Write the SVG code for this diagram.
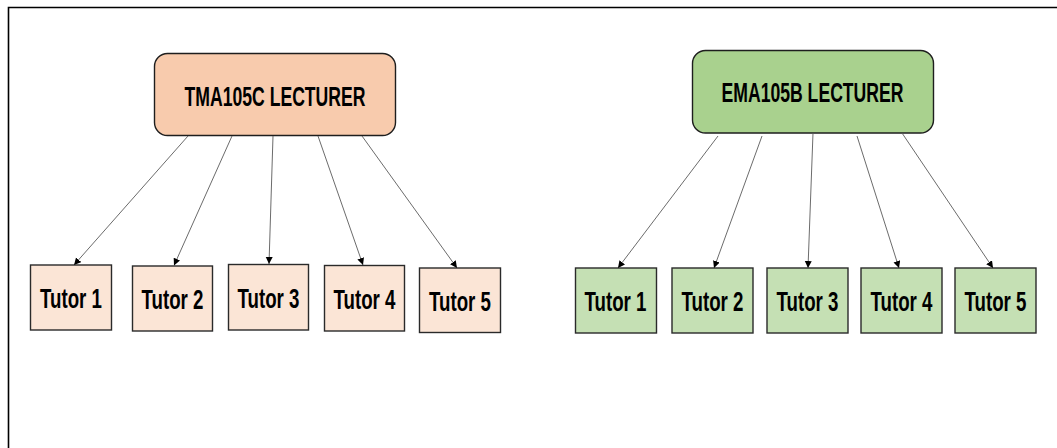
<svg xmlns="http://www.w3.org/2000/svg" width="1057" height="448" viewBox="0 0 1057 448">
  <style>
    .frame { fill: none; stroke: #000; stroke-width: 1.6; }
    .lect { stroke: #1e1e1e; stroke-width: 1.4; }
    .tutor { stroke: #2a2a2a; stroke-width: 1.4; }
    .tmaL { fill: #F8CBAD; }
    .tmaT { fill: #FBE5D6; }
    .emaL { fill: #A9D18E; }
    .emaT { fill: #C5E0B4; }
    .lbl { font-family: "Liberation Sans", Arial, sans-serif; font-weight: bold; font-size: 27px; fill: #000; text-anchor: middle; }
    .edge { stroke: #5a5a5a; stroke-width: 0.9; fill: none; marker-end: url(#tip); }
  </style>
  <defs>
    <marker id="tip" markerUnits="userSpaceOnUse" markerWidth="8" markerHeight="8" refX="7" refY="3.5" orient="auto">
      <path d="M0,0 L7,3.5 L0,7 z" fill="#000"/>
    </marker>
  </defs>

  <rect width="1057" height="448" fill="#fff"/>
  <!-- outer frame: top and left edges only -->
  <path class="frame" d="M8.5,448 V7.5 H1057"/>

  <!-- TMA105C tree -->
  <g id="tma-lecturer">
    <rect class="lect tmaL" x="154.5" y="53.5" width="241" height="82" rx="13"/>
    <text class="lbl" x="275" y="106" textLength="181" lengthAdjust="spacingAndGlyphs">TMA105C LECTURER</text>
  </g>
  <g id="tma-tutor1">
    <rect class="tutor tmaT" x="30.5" y="265" width="81" height="65"/>
    <text class="lbl" x="71" y="308" textLength="62" lengthAdjust="spacingAndGlyphs">Tutor 1</text>
  </g>
  <g id="tma-tutor2">
    <rect class="tutor tmaT" x="132.5" y="266" width="80" height="65"/>
    <text class="lbl" x="172.5" y="309" textLength="62" lengthAdjust="spacingAndGlyphs">Tutor 2</text>
  </g>
  <g id="tma-tutor3">
    <rect class="tutor tmaT" x="228.5" y="264.5" width="80" height="65.5"/>
    <text class="lbl" x="268.5" y="307.5" textLength="62" lengthAdjust="spacingAndGlyphs">Tutor 3</text>
  </g>
  <g id="tma-tutor4">
    <rect class="tutor tmaT" x="324.5" y="265.5" width="80" height="65.5"/>
    <text class="lbl" x="364.5" y="308.5" textLength="62" lengthAdjust="spacingAndGlyphs">Tutor 4</text>
  </g>
  <g id="tma-tutor5">
    <rect class="tutor tmaT" x="419.5" y="268" width="81" height="64.5"/>
    <text class="lbl" x="460" y="311" textLength="62" lengthAdjust="spacingAndGlyphs">Tutor 5</text>
  </g>

  <!-- EMA105B tree -->
  <g id="ema-lecturer">
    <rect class="lect emaL" x="692.5" y="50.5" width="241" height="82.5" rx="13"/>
    <text class="lbl" x="812.5" y="102" textLength="182" lengthAdjust="spacingAndGlyphs">EMA105B LECTURER</text>
  </g>
  <g id="ema-tutor1">
    <rect class="tutor emaT" x="575.5" y="268" width="81" height="65"/>
    <text class="lbl" x="615.5" y="311" textLength="62" lengthAdjust="spacingAndGlyphs">Tutor 1</text>
  </g>
  <g id="ema-tutor2">
    <rect class="tutor emaT" x="672" y="268" width="81" height="65"/>
    <text class="lbl" x="712.5" y="311" textLength="62" lengthAdjust="spacingAndGlyphs">Tutor 2</text>
  </g>
  <g id="ema-tutor3">
    <rect class="tutor emaT" x="767" y="268" width="81" height="65"/>
    <text class="lbl" x="807.5" y="311" textLength="62" lengthAdjust="spacingAndGlyphs">Tutor 3</text>
  </g>
  <g id="ema-tutor4">
    <rect class="tutor emaT" x="861" y="268" width="81" height="65"/>
    <text class="lbl" x="901.5" y="311" textLength="62" lengthAdjust="spacingAndGlyphs">Tutor 4</text>
  </g>
  <g id="ema-tutor5">
    <rect class="tutor emaT" x="955" y="268" width="81" height="65"/>
    <text class="lbl" x="995.5" y="311" textLength="62" lengthAdjust="spacingAndGlyphs">Tutor 5</text>
  </g>

  <!-- lecturer-to-tutor connectors -->
  <g id="connectors">
    <line class="edge" x1="188" y1="136" x2="74" y2="265"/>
    <line class="edge" x1="232" y1="136" x2="174" y2="265.5"/>
    <line class="edge" x1="273" y1="136" x2="269" y2="264"/>
    <line class="edge" x1="318" y1="136" x2="363" y2="265"/>
    <line class="edge" x1="362" y1="136" x2="457" y2="268"/>

    <line class="edge" x1="718" y1="136" x2="618" y2="268"/>
    <line class="edge" x1="762" y1="136" x2="714" y2="268"/>
    <line class="edge" x1="813" y1="133" x2="808" y2="268"/>
    <line class="edge" x1="857" y1="136" x2="899" y2="268"/>
    <line class="edge" x1="902" y1="133" x2="993" y2="268"/>
  </g>
</svg>
